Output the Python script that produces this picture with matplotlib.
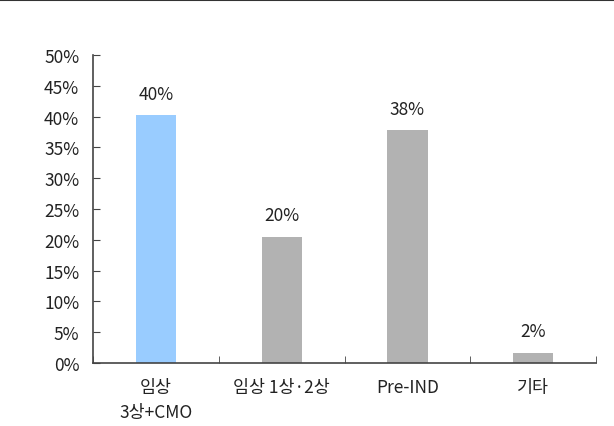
import matplotlib.pyplot as plt
from matplotlib.lines import Line2D

plt.rcParams['font.family'] = ['Noto Sans CJK KR', 'DejaVu Sans']

categories = ['임상\n3상+CMO', '임상 1상·2상', 'Pre-IND', '기타']
values = [40.2, 20.5, 37.8, 1.7]
labels = ['40%', '20%', '38%', '2%']
colors = ['#99CCFF', '#B2B2B2', '#B2B2B2', '#B2B2B2']

fig = plt.figure(figsize=(6.14, 4.27), dpi=100)
ax = fig.add_axes([0.1515, 0.1475, 0.8192, 0.7214])

x = list(range(len(categories)))
ax.bar(x, values, width=0.32, color=colors, zorder=2)
for xi, v, lab in zip(x, values, labels):
    ax.annotate(lab, (xi, v), xytext=(0, 9), textcoords='offset points',
                ha='center', va='bottom', fontsize=12.5, color='#222222')

ax.set_xlim(-0.5, len(categories) - 0.5)
ax.set_ylim(0, 50)
ax.set_yticks(range(0, 51, 5))
ax.set_yticklabels([f'{t}%' for t in range(0, 51, 5)], fontsize=12.5, color='#222222')
ax.set_xticks(x)
ax.set_xticklabels(categories, fontsize=12.5, color='#222222', linespacing=1.5)
ax.tick_params(axis='x', length=0, pad=11)
ax.set_xticks([i - 0.5 for i in range(len(categories) + 1)], minor=True)
ax.tick_params(axis='x', which='minor', direction='in', length=5, color='#444444')
ax.tick_params(axis='y', direction='in', length=5, color='#444444', pad=10)

for s in ['top', 'right']:
    ax.spines[s].set_visible(False)
for s in ['left', 'bottom']:
    ax.spines[s].set_color('#444444')
    ax.spines[s].set_linewidth(1.2)

fig.add_artist(Line2D([0, 1], [0.998, 0.998], color='#333333', linewidth=1.5,
                      transform=fig.transFigure))

fig.savefig('out.png', dpi=100)
